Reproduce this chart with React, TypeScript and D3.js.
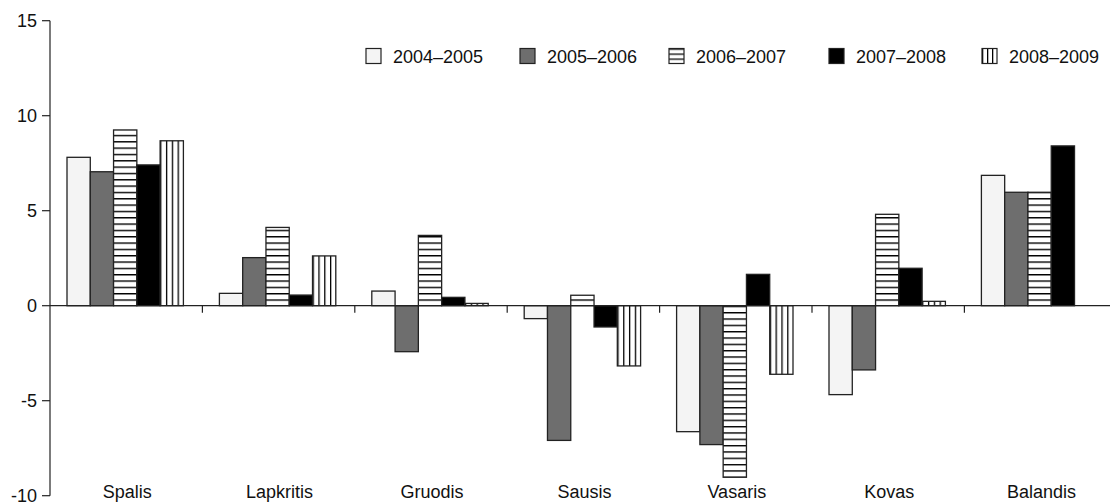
import React from 'react';
import * as d3 from 'd3';

// values
const categories = ['Spalis', 'Lapkritis', 'Gruodis', 'Sausis', 'Vasaris', 'Kovas', 'Balandis'];
const seriesNames = ['2004–2005', '2005–2006', '2006–2007', '2007–2008', '2008–2009'];

const s2004 = [7.81, 0.65, 0.77, -0.68, -6.63, -4.68, 6.86];
const s2005 = [7.05, 2.53, -2.42, -7.09, -7.31, -3.38, 5.97];
const s2006 = [9.25, 4.12, 3.7, 0.55, -9.03, 4.81, 5.97];
const s2007 = [7.41, 0.56, 0.44, -1.12, 1.65, 1.97, 8.41];
const s2008: (number | null)[] = [8.68, 2.62, 0.12, -3.17, -3.61, 0.23, null];

const allSeries = [s2004, s2005, s2006, s2007, s2008];
const yTicks = [15, 10, 5, 0, -5, -10];

const W = 1110;
const H = 503;
const left = 50;
const font = '"Liberation Sans", Arial, sans-serif';
const ink = '#222';

// fills for each series: plain colours or the hatch patterns in <defs>
const fills = ['#f4f4f4', '#6e6e6e', 'url(#hstripe)', '#000', 'url(#vstripe)'];
const legendX = [366, 520, 669, 829, 982];

export default function App() {
  const y = d3.scaleLinear().domain([-10, 15]).range([495.7, 20.7]);
  const x0 = d3.scaleBand().domain(categories).range([left, left + 7 * 152.4]).padding(0);
  const bw = x0.bandwidth();
  const x1 = d3.scaleBand().domain(seriesNames).range([17, bw - 19]).padding(0);
  const zero = y(0);

  return (
    <svg width={W} height={H} style={{ position: 'absolute', left: 0, top: 0, background: '#fff' }}>
      <defs>
        <pattern id="hstripe" patternUnits="userSpaceOnUse" width={10} height={6.33} y={zero}>
          <rect width={10} height={6.33} fill="#fff" />
          <line x1={0} x2={10} y1={0.7} y2={0.7} stroke="#000" strokeWidth={1.4} />
        </pattern>
        <pattern id="vstripe" patternUnits="objectBoundingBox" width={0.25} height={1}>
          <rect width={100} height={1000} fill="#fff" />
          <line x1={0} x2={0} y1={0} y2={1000} stroke="#000" strokeWidth={2.6} />
        </pattern>
        <pattern id="hstripeLeg" patternUnits="objectBoundingBox" width={1} height={0.3333}>
          <rect width={100} height={100} fill="#fff" />
          <line x1={0} x2={100} y1={0} y2={0} stroke="#000" strokeWidth={2.6} />
        </pattern>
        <pattern id="vstripeLeg" patternUnits="objectBoundingBox" width={0.3333} height={1}>
          <rect width={100} height={100} fill="#fff" />
          <line x1={0} x2={0} y1={0} y2={100} stroke="#000" strokeWidth={2.6} />
        </pattern>
      </defs>

      {/* bars */}
      {allSeries.map((vals, si) =>
        vals.map((v, ci) => {
          if (v === null) return null;
          const bx = (x0(categories[ci]) as number) + (x1(seriesNames[si]) as number);
          const top = Math.min(y(v), zero);
          const h = Math.abs(y(v) - zero);
          return (
            <rect
              key={`${si}-${ci}`}
              x={bx}
              y={top}
              width={x1.bandwidth()}
              height={h}
              fill={fills[si]}
              stroke={ink}
              strokeWidth={1.3}
            />
          );
        })
      )}

      {/* y axis */}
      <line x1={left} x2={left} y1={y(15)} y2={y(-10)} stroke={ink} strokeWidth={1.2} />
      {yTicks.map((t) => (
        <g key={t}>
          <line x1={left - 8} x2={left} y1={y(t)} y2={y(t)} stroke={ink} strokeWidth={1.2} />
          <text x={37} y={y(t)} dy="0.36em" textAnchor="end" fontFamily={font} fontSize={18} fill="#111">
            {t}
          </text>
        </g>
      ))}

      {/* zero line with category ticks */}
      <line x1={left} x2={W} y1={zero} y2={zero} stroke={ink} strokeWidth={1.2} />
      {categories.slice(1).map((c) => (
        <line key={c} x1={x0(c) as number} x2={x0(c) as number} y1={zero} y2={zero + 7} stroke={ink} strokeWidth={1.2} />
      ))}

      {/* category labels */}
      {categories.map((c) => (
        <text key={c} x={(x0(c) as number) + bw / 2 + 1} y={498} textAnchor="middle" fontFamily={font} fontSize={18} fill="#111">
          {c}
        </text>
      ))}

      {/* legend */}
      {seriesNames.map((s, i) => (
        <g key={s}>
          <rect
            x={legendX[i]}
            y={48.5}
            width={15}
            height={15}
            fill={i === 2 ? 'url(#hstripeLeg)' : i === 4 ? 'url(#vstripeLeg)' : fills[i]}
            stroke={ink}
            strokeWidth={1.2}
          />
          <text x={legendX[i] + 27} y={62.5} fontFamily={font} fontSize={18} fill="#111">
            {s}
          </text>
        </g>
      ))}
    </svg>
  );
}
